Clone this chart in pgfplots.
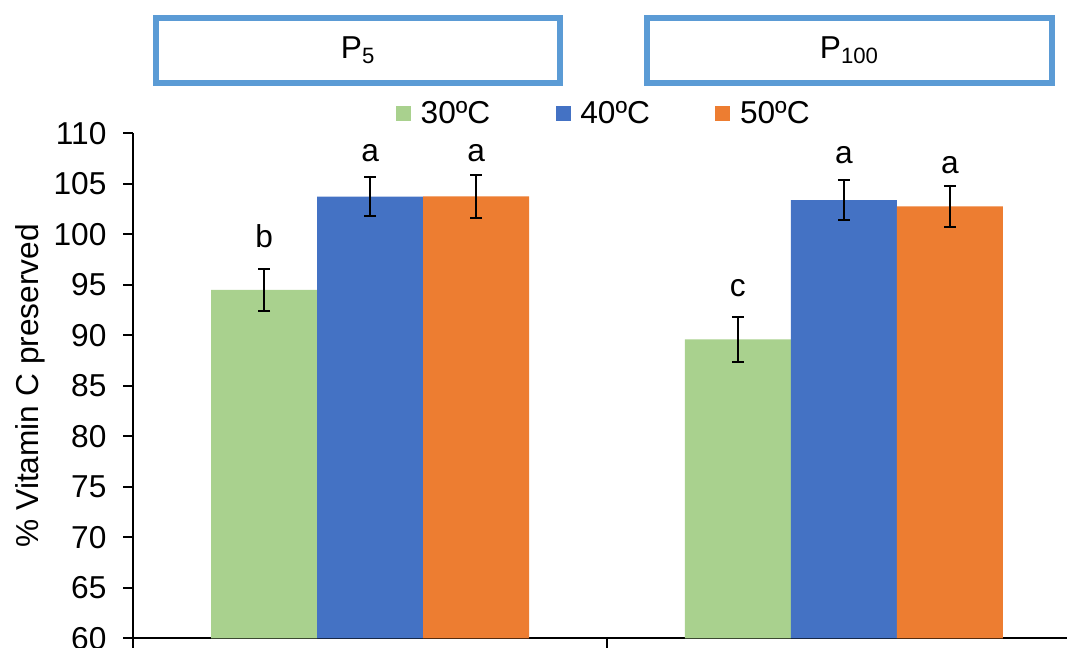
\documentclass[border=0pt]{standalone}
\usepackage{pgfplots}
\pgfplotsset{compat=1.18}
\usepackage{fontspec}
\setmainfont{Liberation Sans}
\definecolor{cg}{HTML}{A9D18E}
\definecolor{cb}{HTML}{4472C4}
\definecolor{co}{HTML}{ED7D31}
\definecolor{bx}{HTML}{5B9BD5}
\pgfplotstableread{
x y e
-0.2238 94.5 2.1
0.7762 89.6 2.2
}\tA
\pgfplotstableread{
x y e
0 103.72 1.9
1 103.37 2.0
}\tB
\pgfplotstableread{
x y e
0.2238 103.75 2.1
1.2238 102.77 2.05
}\tC
\begin{document}
\begin{tikzpicture}
\begin{axis}[
 at={(100pt,7.3pt)}, anchor=south west,
 scale only axis, width=710.55pt, height=378.75pt,
 xmin=-0.5, xmax=1.5, ymin=60, ymax=110,
 ytick={60,65,...,110},
 xtick={-0.5,0.5,1.5}, xticklabels={},
 axis x line=bottom, axis y line=left,
 axis line style={-, line width=1.5pt, black},
 tick style={line width=1.5pt, black},
 tick align=outside, major tick length=7.5pt,
 font=\fontsize{23.75}{28}\selectfont,
 /pgf/number format/assume math mode=true,
 yticklabel style={anchor=east, inner sep=0pt, xshift=-12.5pt},
 ylabel={\% Vitamin C preserved},
 ylabel style={at={(axis description cs:-0.109,0.5)}, anchor=center},
 legend style={at={(0.497,1.04)}, anchor=center, draw=none, fill=none,
   legend columns=3, font=\fontsize{23.75}{28}\selectfont,
   /tikz/every even column/.append style={column sep=47pt}},
 legend image code/.code={\fill[#1] (0pt,-5.6pt) rectangle (11.25pt,5.6pt); \path (16.5pt,0pt);},
 error bars/error bar style={line width=1.5pt, black},
 error bars/error mark options={rotate=90, mark size=4.5pt, line width=1.5pt, black},
 clip=false,
]
\addplot[ybar, bar width=0.2238, bar shift=0pt, fill=cg, draw=none,
  error bars/.cd, y dir=both, y explicit] table[x=x, y=y, y error=e] {\tA};
\addlegendentry{30ºC}
\addplot[ybar, bar width=0.2238, bar shift=0pt, fill=cb, draw=none,
  error bars/.cd, y dir=both, y explicit] table[x=x, y=y, y error=e] {\tB};
\addlegendentry{40ºC}
\addplot[ybar, bar width=0.2238, bar shift=0pt, fill=co, draw=none,
  error bars/.cd, y dir=both, y explicit] table[x=x, y=y, y error=e] {\tC};
\addlegendentry{50ºC}
\node[anchor=base] at (axis cs:-0.2238,98.64) {b};
\node[anchor=base] at (axis cs:0,107.2) {a};
\node[anchor=base] at (axis cs:0.2238,107.2) {a};
\node[anchor=base] at (axis cs:0.7762,93.8) {c};
\node[anchor=base] at (axis cs:1,107.0) {a};
\node[anchor=base] at (axis cs:1.2238,106.04) {a};
\end{axis}
\draw[bx, line width=4.5pt] (116.8pt,423.75pt) rectangle (420pt,472.5pt);
\draw[bx, line width=4.5pt] (485.25pt,423.75pt) rectangle (789pt,472.5pt);
\node[font=\fontsize{23.75}{28}\selectfont] at (268.5pt,448.1pt) {P\textsubscript{5}};
\node[font=\fontsize{23.75}{28}\selectfont] at (637pt,448.1pt) {P\textsubscript{100}};
\pgfresetboundingbox
\path[use as bounding box] (0pt,0pt) rectangle (800.25pt,486pt);
\end{tikzpicture}
\end{document}
